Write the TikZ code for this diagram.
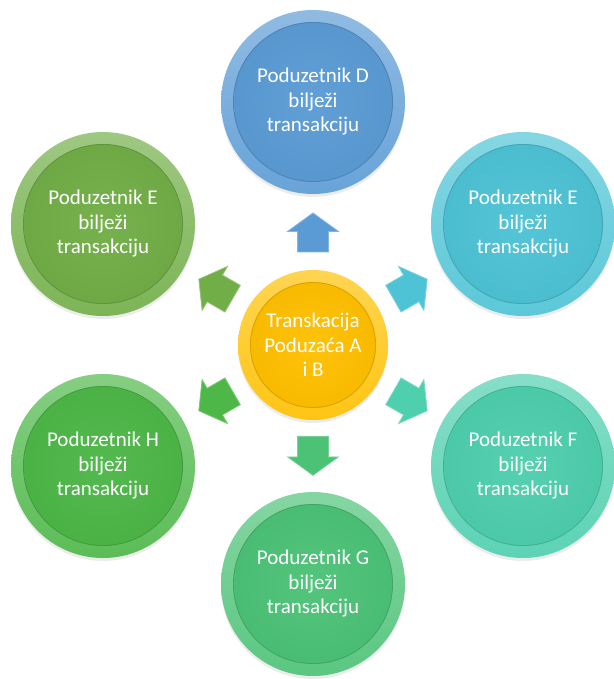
\documentclass[tikz,border=0pt]{standalone}
\usepackage{fontspec}
\setmainfont{Carlito}
\usetikzlibrary{shapes.arrows,shadows}

\definecolor{colA}{HTML}{FFC000}
\definecolor{colD}{HTML}{5B9BD5}
\definecolor{colEr}{HTML}{4DC3D5}
\definecolor{colF}{HTML}{4ECFAE}
\definecolor{colG}{HTML}{4CC277}
\definecolor{colH}{HTML}{4DB748}
\definecolor{colEl}{HTML}{71AE47}

\begin{document}
\begin{tikzpicture}[x=1pt,y=1pt,
  disc/.style 2 args={circle, minimum size=#2*2pt, inner sep=0pt,
    text=white, align=center, font=\fontsize{21}{24.5}\selectfont,
    top color=#1!68!white, bottom color=#1!92!white,
    drop shadow={shadow xshift=0pt, shadow yshift=-3pt, opacity=0.15},
    path picture={
      \fill[#1!85!black] (path picture bounding box.center) circle[radius={(#2-12)*1pt}];
      \shade[inner color=#1!96!white, outer color=#1!97!black]
        (path picture bounding box.center) circle[radius={(#2-13)*1pt}];
    }},
  pointer/.style={single arrow, fill=#1, draw=#1!75!white, line width=0.8pt,
    minimum height=39pt, inner xsep=0pt, inner ysep=15pt,
    single arrow head extend=10pt, single arrow tip angle=108,
    sloped, allow upside down}]

\useasboundingbox (0,0) rectangle (613,-679);

\node[disc={colA}{75}] (hub) at (313,-345) {Transkacija\\Poduzaća A\\i B};

\node[disc={colD}{92}]  (d)  at (313,-102) {Poduzetnik D\\bilježi\\transakciju};
\node[disc={colEr}{92}] (er) at (523,-224) {Poduzetnik E\\bilježi\\transakciju};
\node[disc={colF}{92}]  (f)  at (523,-466) {Poduzetnik F\\bilježi\\transakciju};
\node[disc={colG}{92}]  (g)  at (313,-584) {Poduzetnik G\\bilježi\\transakciju};
\node[disc={colH}{92}]  (h)  at (103,-466) {Poduzetnik H\\bilježi\\transakciju};
\node[disc={colEl}{92}] (el) at (103,-224) {Poduzetnik E\\bilježi\\transakciju};

\path (hub) -- (d)  node[pos=0.42, pointer=colD]  (ad)  {};
\path (hub) -- (er) node[pos=0.42, pointer=colEr] (aer) {};
\path (hub) -- (f)  node[pos=0.42, pointer=colF]  (af)  {};
\path (hub) -- (g)  node[pos=0.42, pointer=colG]  (ag)  {};
\path (hub) -- (h)  node[pos=0.42, pointer=colH]  (ah)  {};
\path (hub) -- (el) node[pos=0.42, pointer=colEl] (ael) {};

\end{tikzpicture}
\end{document}
